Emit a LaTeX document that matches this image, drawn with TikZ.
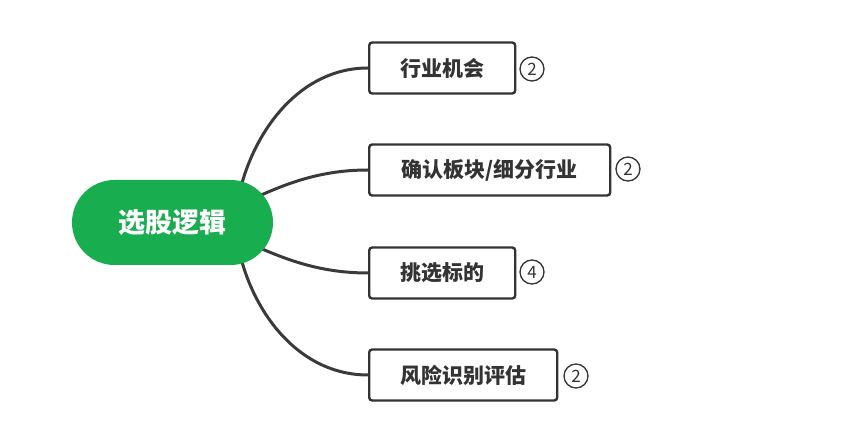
\documentclass[tikz,border=0pt]{standalone}
\usepackage{fontspec}
\setmainfont{Noto Sans CJK SC}
\usetikzlibrary{backgrounds}
\definecolor{mgreen}{HTML}{18AD4F}
\definecolor{mline}{HTML}{3A3A3A}
\definecolor{mbox}{HTML}{333333}
\begin{document}
\begin{tikzpicture}[x=1pt,y=-1pt,
  root/.style={fill=mgreen,draw=none,rounded corners=42.5pt,minimum width=201pt,minimum height=85pt,inner sep=0pt,text=white,font=\fontsize{27}{30}\selectfont\bfseries},
  topic/.style={draw=mbox,line width=2.4pt,rounded corners=3pt,minimum height=51pt,inner sep=0pt,anchor=west,font=\fontsize{21}{24}\selectfont\bfseries,text=mbox},
  badge/.style={circle,draw=mbox,line width=1.3pt,minimum size=24pt,inner sep=0pt,font=\fontsize{17}{19}\selectfont,text=mbox},
  conn/.style={draw=mline,line width=3pt}]
\useasboundingbox (0,0) rectangle (865,443);
\node[root] (c) at (172.5,222.5) {选股逻辑};
\node[topic,minimum width=146pt] (t1) at (368,68) {行业机会};
\node[topic,minimum width=241pt] (t2) at (368,170) {确认板块/细分行业};
\node[topic,minimum width=146pt] (t3) at (368,273) {挑选标的};
\node[topic,minimum width=188pt] (t4) at (368,375) {风险识别评估};
\node[badge] (b1) at (532,69) {2};
\node[badge] (b2) at (628,169) {2};
\node[badge] (b3) at (532,272) {4};
\node[badge] (b4) at (576,376) {2};
\coordinate (s1) at ([shift={(-33,10)}]c.north east);
\coordinate (s4) at ([shift={(-33,-10)}]c.south east);
\begin{scope}[on background layer]
\draw[conn] (s1) .. controls (255,130) and (300,68) .. (t1.west);
\draw[conn] (c.center) .. controls (235,222) and (275,170) .. (t2.west);
\draw[conn] (c.center) .. controls (235,222) and (275,273) .. (t3.west);
\draw[conn] (s4) .. controls (255,315) and (300,375) .. (t4.west);
\end{scope}
\end{tikzpicture}
\end{document}
